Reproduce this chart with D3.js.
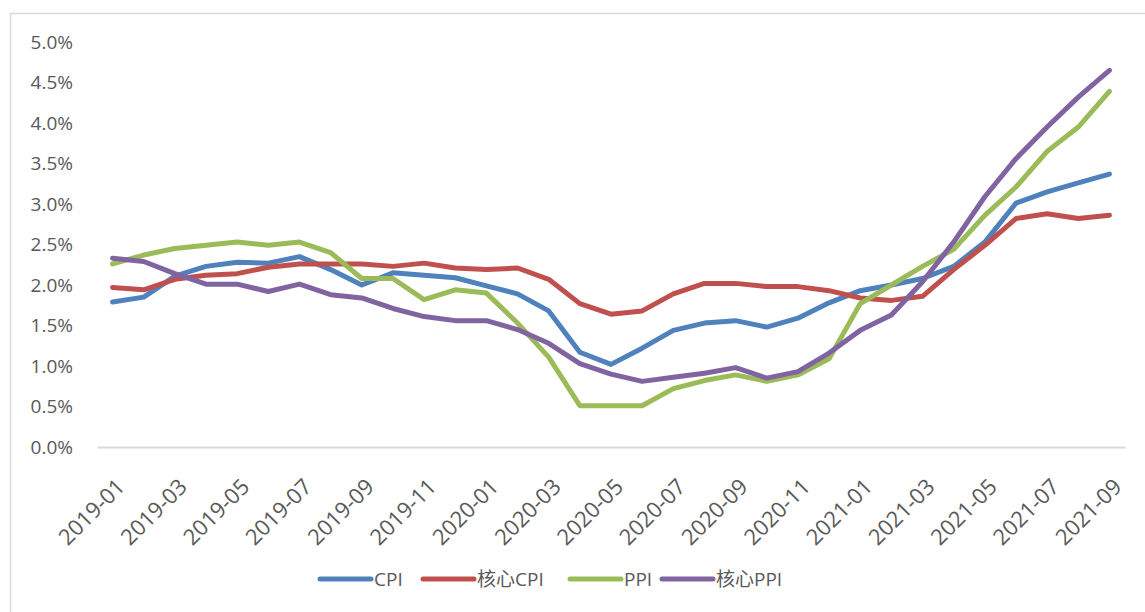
<!DOCTYPE html>
<html>
<head>
<meta charset="utf-8">
<script src="https://cdn.jsdelivr.net/npm/d3@7"></script>
<style>
body { margin: 0; background: #fff; }
text { font-family: "Open Sans", "Noto Sans CJK SC", sans-serif; fill: #595959; }
</style>
</head>
<body>
<div id="chart"></div>
<script>
// months on the x axis
var months = [];
["2019", "2020", "2021"].forEach(function(y) {
    for (var m = 1; m <= 12; m++) {
        if (y == "2021" && m > 9) break;
        months.push(y + "-" + (m < 10 ? "0" + m : m));
    }
});

// series values in percent
var cpi = [1.79, 1.85, 2.11, 2.23, 2.28, 2.27, 2.35, 2.19, 2.00, 2.15, 2.12, 2.09,
    1.99, 1.89, 1.68, 1.17, 1.02, 1.22, 1.44, 1.53, 1.56, 1.48, 1.59, 1.78,
    1.93, 2.00, 2.08, 2.23, 2.53, 3.01, 3.15, 3.26, 3.37];
var coreCpi = [1.97, 1.94, 2.07, 2.12, 2.14, 2.22, 2.26, 2.26, 2.26, 2.23, 2.27, 2.21,
    2.19, 2.21, 2.07, 1.77, 1.64, 1.68, 1.89, 2.02, 2.02, 1.98, 1.98, 1.93,
    1.84, 1.81, 1.86, 2.19, 2.49, 2.82, 2.88, 2.82, 2.86];
var ppi = [2.26, 2.37, 2.45, 2.49, 2.53, 2.49, 2.53, 2.40, 2.08, 2.08, 1.82, 1.94,
    1.90, 1.53, 1.11, 0.51, 0.51, 0.51, 0.72, 0.82, 0.89, 0.81, 0.89, 1.09,
    1.77, 2.00, 2.23, 2.44, 2.86, 3.21, 3.65, 3.95, 4.39];
var corePpi = [2.33, 2.29, 2.14, 2.01, 2.01, 1.92, 2.01, 1.88, 1.84, 1.71, 1.61, 1.56,
    1.56, 1.45, 1.28, 1.03, 0.90, 0.81, 0.86, 0.91, 0.98, 0.85, 0.93, 1.16,
    1.44, 1.63, 2.04, 2.53, 3.09, 3.56, 3.95, 4.32, 4.65];

var seriesNames = ["CPI", "核心CPI", "PPI", "核心PPI"];
var seriesColors = ["#4f81bd", "#c0504d", "#9bbb59", "#8064a2"];
var yTicks = [0, 0.5, 1, 1.5, 2, 2.5, 3, 3.5, 4, 4.5, 5];

var W = 1145, H = 612;
var plot = {left: 97, right: 1125, top: 42, bottom: 447};

var x = d3.scalePoint().domain(months).range([plot.left, plot.right]).padding(0.5);
var y = d3.scaleLinear().domain([0, 5]).range([plot.bottom, plot.top]);

var svg = d3.select("#chart").append("svg")
    .attr("width", W)
    .attr("height", H);

// chart frame
svg.append("rect")
    .attr("x", 10.5).attr("y", 13.5)
    .attr("width", W).attr("height", H)
    .attr("fill", "none")
    .attr("stroke", "#d9d9d9")
    .attr("stroke-width", 1.5);

// y axis labels, no axis line
var yAxis = svg.append("g")
    .attr("transform", "translate(" + plot.left + ",0)")
    .call(d3.axisLeft(y).tickValues(yTicks).tickSize(0).tickPadding(24)
        .tickFormat(function(d) { return d.toFixed(1) + "%"; }));
yAxis.select(".domain").remove();
yAxis.selectAll("text").style("font-size", "19px").attr("fill", "#595959");

// x axis, every other month, rotated labels
var xAxis = svg.append("g")
    .attr("transform", "translate(0," + plot.bottom + ")")
    .call(d3.axisBottom(x)
        .tickValues(months.filter(function(d, i) { return i % 2 == 0; }))
        .tickSize(0));
xAxis.select(".domain").attr("stroke", "#d9d9d9").attr("stroke-width", 2);
xAxis.selectAll("text")
    .style("font-size", "22px")
    .attr("fill", "#595959")
    .attr("text-anchor", "end")
    .attr("dy", "0")
    .attr("transform", "translate(11,39) rotate(-45)");

var line = d3.line()
    .x(function(d, i) { return x(months[i]); })
    .y(function(d) { return y(d); });

[cpi, coreCpi, ppi, corePpi].forEach(function(s, i) {
    svg.append("path")
        .datum(s)
        .attr("d", line)
        .attr("fill", "none")
        .attr("stroke", seriesColors[i])
        .attr("stroke-width", 5)
        .attr("stroke-linejoin", "round")
        .attr("stroke-linecap", "round");
});

// legend
var legendX = [320, 423, 570, 662];
var legend = svg.append("g").attr("transform", "translate(0,579)");
seriesNames.forEach(function(name, i) {
    legend.append("line")
        .attr("x1", legendX[i]).attr("x2", legendX[i] + 51)
        .attr("stroke", seriesColors[i])
        .attr("stroke-width", 5)
        .attr("stroke-linecap", "round");
    legend.append("text")
        .attr("x", legendX[i] + 54)
        .attr("dy", "0.35em")
        .style("font-size", "19px")
        .text(name);
});
</script>
</body>
</html>
